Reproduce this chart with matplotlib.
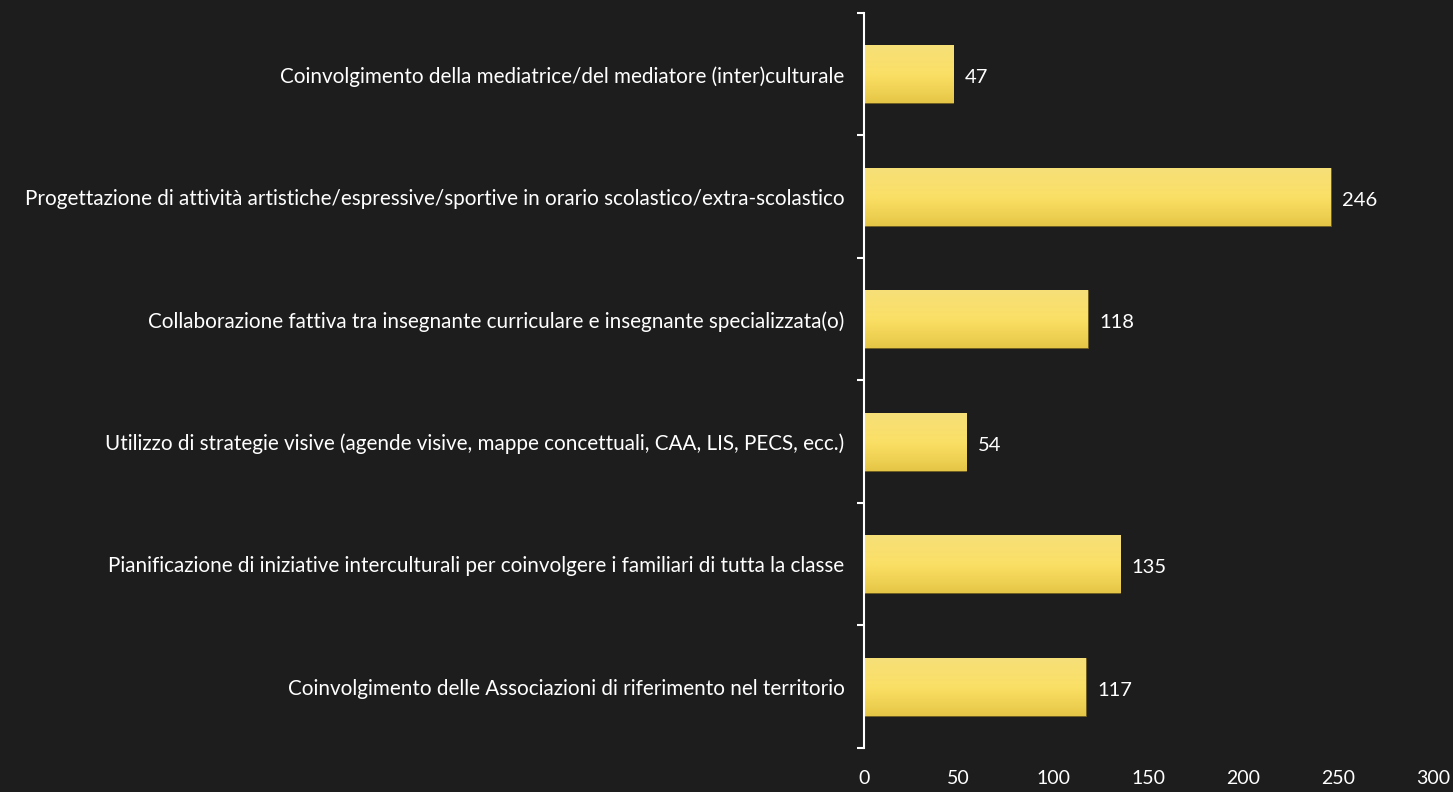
import numpy as np
import matplotlib.pyplot as plt
from matplotlib.colors import LinearSegmentedColormap

categories = [
    "Coinvolgimento della mediatrice/del mediatore (inter)culturale",
    "Progettazione di attività artistiche/espressive/sportive in orario scolastico/extra-scolastico",
    "Collaborazione fattiva tra insegnante curriculare e insegnante specializzata(o)",
    "Utilizzo di strategie visive (agende visive, mappe concettuali, CAA, LIS, PECS, ecc.)",
    "Pianificazione di iniziative interculturali per coinvolgere i familiari di tutta la classe",
    "Coinvolgimento delle Associazioni di riferimento nel territorio",
]
values = [47, 246, 118, 54, 135, 117]
xticks = [0, 50, 100, 150, 200, 250, 300]

plt.rcParams['font.family'] = ['Lato', 'DejaVu Sans']

bg = '#1d1d1d'
fig = plt.figure(figsize=(14.53, 7.92), dpi=100, facecolor=bg)
ax = fig.add_axes([0.5946, 0.0556, 0.3916, 0.928])
ax.set_facecolor(bg)

n = len(categories)
y = np.arange(n)
bar_h = 0.47
bars = ax.barh(y, values, height=bar_h, color='#f9dc65', edgecolor='#6b5a1e', linewidth=0.6, zorder=2)

# vertical gradient on each bar
cmap = LinearSegmentedColormap.from_list('gold', ['#f6df78', '#fbe066', '#e6c646'])
grad = np.linspace(0, 1, 100).reshape(-1, 1)
for b in bars:
    x0, y0 = b.get_x(), b.get_y()
    w, h = b.get_width(), b.get_height()
    ax.imshow(grad, cmap=cmap, aspect='auto', extent=[x0, x0 + w, y0 + h, y0],
              zorder=2.5, interpolation='bilinear')
    ax.text(w + 6, b.get_y() + h / 2 + 0.03, str(int(w)), color='white', fontsize=14.5,
            va='center', ha='left', zorder=3)

ax.set_xlim(0, 300)
ax.set_ylim(n - 0.5, -0.5)
ax.set_xticks(xticks)
ax.set_xticklabels([str(t) for t in xticks])
ax.set_yticks(y)
ax.set_yticklabels(categories)
ax.set_yticks(np.arange(-0.5, n, 1), minor=True)

ax.tick_params(axis='x', length=0, pad=22, labelcolor='white', labelsize=14)
ax.tick_params(axis='y', which='major', length=0, pad=14, labelcolor='white', labelsize=14.9)
ax.tick_params(axis='y', which='minor', length=5, width=1.5, color='white', direction='out')
for lbl in ax.get_xticklabels():
    lbl.set_verticalalignment('center')

for s in ['top', 'right', 'bottom']:
    ax.spines[s].set_visible(False)
ax.spines['left'].set_color('white')
ax.spines['left'].set_linewidth(1.5)

fig.savefig('out.png', dpi=100, facecolor=bg)
